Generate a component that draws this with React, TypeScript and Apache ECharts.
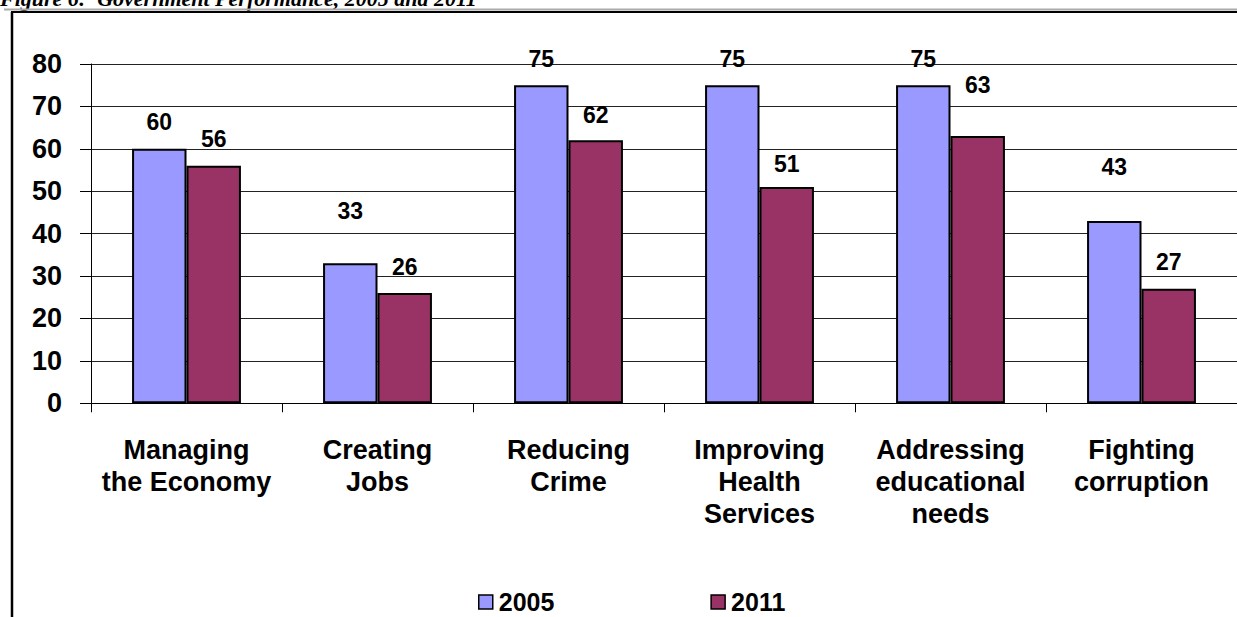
import React, { useEffect, useRef } from "react";
import * as echarts from "echarts";

const categories = [
  "Managing\nthe Economy",
  "Creating\nJobs",
  "Reducing\nCrime",
  "Improving\nHealth\nServices",
  "Addressing\neducational\nneeds",
  "Fighting\ncorruption",
];
const values2005 = [60, 33, 75, 75, 75, 43];
const values2011 = [56, 26, 62, 51, 63, 27];
const yTicks = { min: 0, max: 80, interval: 10 };
const titleText = "Figure 6:  Government Performance, 2005 and 2011";

// label gap above each bar (layout only)
const labelGap2005 = [15, 41, 15, 15, 15, 42];
const labelGap2011 = [15, 15, 14, 11, 40, 15];

const FONT = "'Liberation Sans', Arial, sans-serif";

export default function App() {
  const ref = useRef<HTMLDivElement>(null);
  useEffect(() => {
    if (!ref.current) return;
    const chart = echarts.init(ref.current, undefined, { renderer: "svg" });
    const mk = (vals: number[], gaps: number[]) =>
      vals.map((v, i) => ({ value: v, label: { distance: gaps[i] } }));
    const labelStyle = {
      show: true,
      position: "top",
      color: "#000",
      fontFamily: FONT,
      fontWeight: "bold",
      fontSize: 23,
    };
    chart.setOption({
      animation: false,
      backgroundColor: "#fff",
      grid: { left: 91, top: 64, width: 1149, bottom: 213.7, containLabel: false },
      legend: {
        left: 473,
        top: 584,
        itemWidth: 14,
        itemHeight: 14,
        itemGap: 156,
        icon: "rect",
        itemStyle: { borderColor: "#000", borderWidth: 1.5 },
        textStyle: {
          color: "#000",
          fontFamily: FONT,
          fontWeight: "bold",
          fontSize: 25,
          lineHeight: 26,
          padding: [0, 0, 0, 1],
        },
        data: ["2005", "2011"],
      },
      xAxis: {
        type: "category",
        data: categories,
        axisLine: { lineStyle: { color: "#000", width: 1 } },
        axisTick: { show: true, length: 9, lineStyle: { color: "#000" } },
        axisLabel: {
          color: "#000",
          fontFamily: FONT,
          fontWeight: "bold",
          fontSize: 27,
          lineHeight: 32,
          margin: 31,
          interval: 0,
        },
      },
      yAxis: {
        type: "value",
        min: yTicks.min,
        max: yTicks.max,
        interval: yTicks.interval,
        axisLine: { show: true, lineStyle: { color: "#000", width: 1 } },
        axisTick: { show: true, length: 11, lineStyle: { color: "#000" } },
        splitLine: { show: true, lineStyle: { color: "#222", width: 1 } },
        axisLabel: {
          color: "#000",
          fontFamily: FONT,
          fontWeight: "bold",
          fontSize: 27,
          margin: 29,
        },
      },
      series: [
        {
          name: "2005",
          type: "bar",
          data: mk(values2005, labelGap2005),
          barWidth: "28.5%",
          barGap: "0%",
          itemStyle: { color: "#9999FF", borderColor: "#000", borderWidth: 2 },
          label: labelStyle,
        },
        {
          name: "2011",
          type: "bar",
          data: mk(values2011, labelGap2011),
          barWidth: "28.5%",
          barGap: "0%",
          itemStyle: { color: "#993366", borderColor: "#000", borderWidth: 2 },
          label: labelStyle,
        },
      ],
      graphic: [
        {
          type: "text",
          left: 0,
          top: -13,
          style: {
            text: titleText,
            fill: "#000",
            font: "italic bold 22px 'Liberation Serif', 'Times New Roman', serif",
          },
        },
        {
          type: "line",
          shape: { x1: 4, y1: 9.5, x2: 1237, y2: 9.5 },
          style: { stroke: "#aaa", lineWidth: 2 },
        },
        {
          type: "line",
          shape: { x1: 11, y1: 12, x2: 1237, y2: 12 },
          style: { stroke: "#000", lineWidth: 2 },
        },
        {
          type: "line",
          shape: { x1: 12, y1: 12, x2: 12, y2: 617 },
          style: { stroke: "#000", lineWidth: 2.5 },
        },
      ],
    });
    return () => chart.dispose();
  }, []);
  return (
    <div
      ref={ref}
      style={{ position: "fixed", left: 0, top: 0, width: 1237, height: 617 }}
    />
  );
}
